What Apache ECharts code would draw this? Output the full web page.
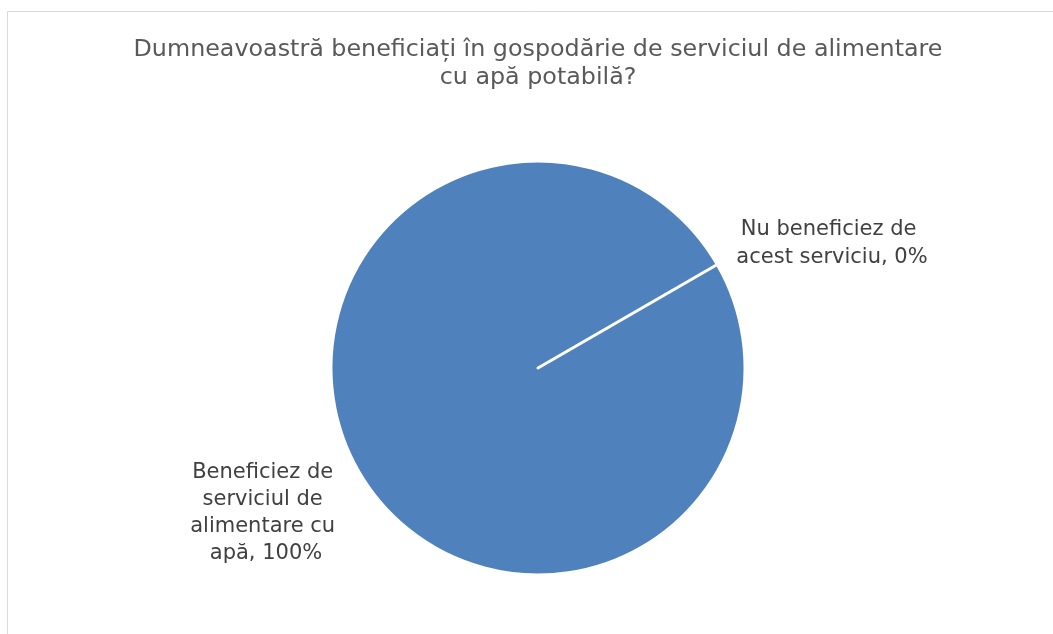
<!DOCTYPE html>
<html>
<head>
<meta charset="utf-8">
<script src="https://cdn.jsdelivr.net/npm/echarts@6/dist/echarts.min.js"></script>
<style>
  html, body { margin: 0; padding: 0; background: #ffffff; }
  #chart { width: 1053px; height: 634px; }
</style>
</head>
<body>
<div id="chart"></div>
<script>
// date din grafic
var titleText = "Dumneavoastră beneficiați în gospodărie de serviciul de alimentare\ncu apă potabilă?";
var categories = ["Beneficiez de serviciul de alimentare cu apă", "Nu beneficiez de acest serviciu"];
var values = [100, 0];

var chart = echarts.init(document.getElementById("chart"));

// pozitia etichetelor (ca in Excel)
var labelPos = [
  { x: 266, y: 513, width: 160, lh: 27 },
  { x: 832, y: 244, width: 215, lh: 28 }
];

chart.setOption({
  animation: false,
  backgroundColor: "#ffffff",
  title: {
    text: titleText,
    left: 533,
    top: 31,
    textAlign: "center",
    textStyle: {
      fontFamily: "DejaVu Sans",
      fontSize: 23.8,
      fontWeight: "normal",
      color: "#595959",
      lineHeight: 28
    }
  },
  graphic: [
    {
      type: "rect",
      shape: { x: 7.5, y: 11.5, width: 1200, height: 800 },
      style: { fill: "none", stroke: "#d9d9d9", lineWidth: 1 },
      silent: true
    }
  ],
  series: [
    {
      type: "pie",
      center: [538, 368],
      radius: [0, 207],
      startAngle: 30,
      clockwise: true,
      minAngle: 0,
      avoidLabelOverlap: false,
      stillShowZeroSum: true,
      itemStyle: {
        color: "#4f81bd",
        borderColor: "#ffffff",
        borderWidth: 3
      },
      label: {
        show: true,
        position: "outside",
        formatter: "{b}, {d}%",
        fontFamily: "DejaVu Sans",
        fontSize: 21,
        color: "#404040",
        align: "center",
        overflow: "break"
      },
      labelLine: { show: false },
      labelLayout: function (params) {
        var p = labelPos[params.dataIndex];
        return { x: p.x, y: p.y, align: "center", verticalAlign: "middle" };
      },
      emphasis: { disabled: true },
      data: categories.map(function (name, i) {
        return {
          name: name,
          value: values[i],
          label: { width: labelPos[i].width, lineHeight: labelPos[i].lh }
        };
      })
    }
  ]
});
</script>
</body>
</html>
